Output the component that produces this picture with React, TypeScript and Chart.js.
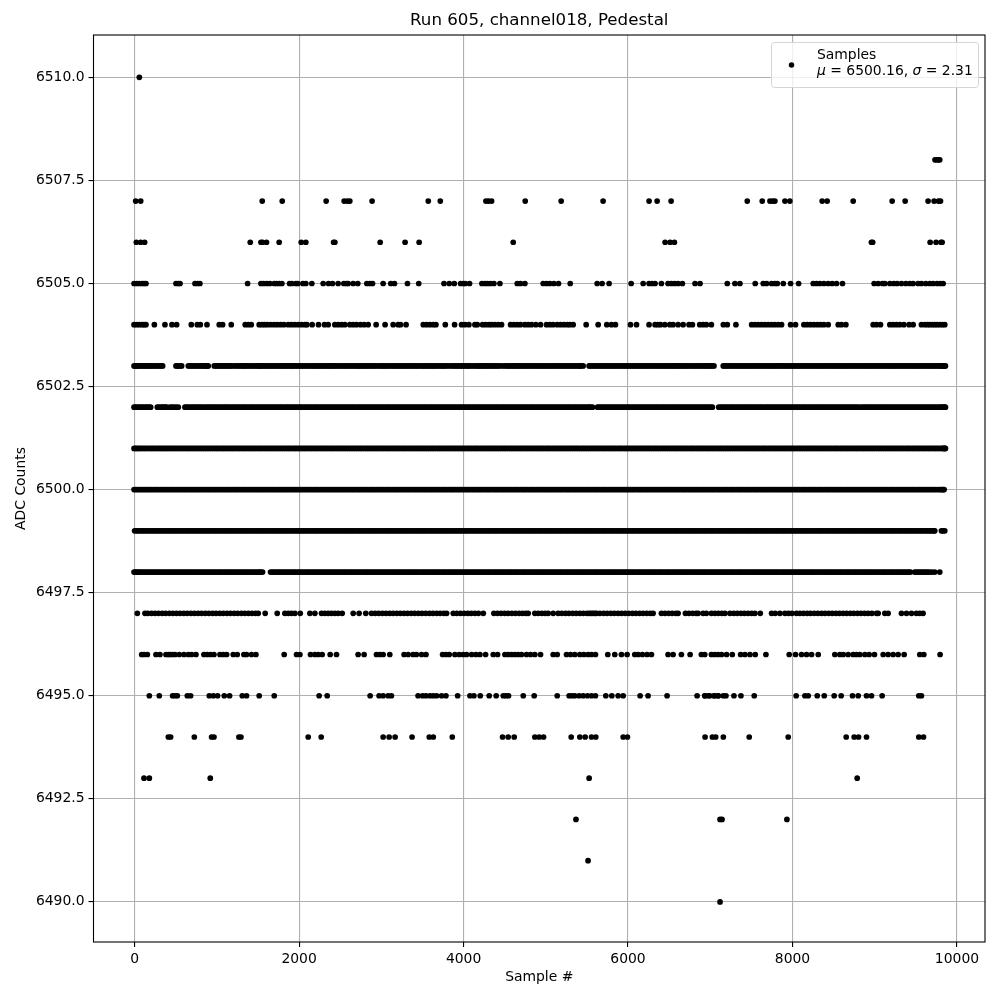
import React, { useEffect, useRef } from "react";
import { Chart, registerables } from "chart.js";

Chart.register(...registerables);

const chartTitle = "Run 605, channel018, Pedestal";
const xLabel = "Sample #";
const yLabel = "ADC Counts";
const xTicks = [0, 2000, 4000, 6000, 8000, 10000];
const yTicks = [6490, 6492.5, 6495, 6497.5, 6500, 6502.5, 6505, 6507.5, 6510];

const level6510 = [57];
const level6508 = [9733, 9755, 9775, 9791];
const level6507 = [13, 74, 1552, 1795, 2329, 2548, 2585, 2617, 2888, 3571, 3717, 4272, 4304, 4341, 4750, 5187, 5697, 6256, 6354, 6524, 7450, 7632, 7726, 7760, 7786, 7908, 7968, 8361, 8422, 8738, 9212, 9370, 9649, 9722, 9775, 9800];
const level6506 = [21, 74, 122, 1406, 1536, 1556, 1604, 1758, 2026, 2082, 2420, 2435, 2986, 3289, 3460, 4604, 6451, 6512, 6564, 8960, 8975, 9674, 9746, 9807, 9820];
const level6505 = [-7, 25, 57, 90, 114, 138, 503, 531, 552, 734, 766, 794, 1374, 1536, 1568, 1608, 1645, 1698, 1726, 1758, 1791, 1884, 1912, 1961, 1985, 2046, 2082, 2155, 2293, 2358, 2406, 2475, 2544, 2576, 2597, 2658, 2714, 2824, 2860, 2893, 3022, 3115, 3160, 3318, 3455, 3762, 3826, 3887, 3964, 3996, 4021, 4073, 4223, 4260, 4292, 4329, 4369, 4442, 4653, 4693, 4746, 4968, 5009, 5049, 5098, 5155, 5297, 5625, 5685, 5770, 6038, 6184, 6256, 6293, 6329, 6406, 6487, 6528, 6568, 6609, 6661, 6815, 6876, 7207, 7300, 7361, 7547, 7644, 7685, 7746, 7786, 7815, 7888, 7977, 8074, 8252, 8293, 8333, 8382, 8434, 8483, 8536, 8608, 8993, 9042, 9094, 9123, 9184, 9232, 9273, 9325, 9378, 9427, 9467, 9528, 9568, 9621, 9670, 9710, 9759, 9799, 9832];
const level6504 = [-7, 25, 57, 90, 114, 138, 240, 369, 454, 511, 689, 762, 799, 880, 1029, 1070, 1175, 1345, 1382, 1418, 1515, 1548, 1580, 1613, 1653, 1694, 1734, 1775, 1815, 1868, 1908, 1949, 1989, 2030, 2070, 2095, 2159, 2236, 2309, 2354, 2435, 2475, 2516, 2556, 2617, 2658, 2698, 2746, 2791, 2840, 2937, 3046, 3144, 3204, 3233, 3301, 3510, 3551, 3591, 3632, 3664, 3778, 3891, 3976, 4017, 4065, 4138, 4167, 4231, 4268, 4308, 4341, 4381, 4422, 4462, 4572, 4612, 4653, 4693, 4746, 4786, 4827, 4879, 4936, 5009, 5050, 5090, 5139, 5179, 5220, 5260, 5293, 5333, 5491, 5637, 5742, 5799, 5847, 6030, 6103, 6256, 6329, 6362, 6394, 6447, 6508, 6548, 6609, 6670, 6742, 6783, 6872, 6913, 6953, 7014, 7159, 7207, 7312, 7503, 7543, 7584, 7624, 7665, 7705, 7746, 7786, 7827, 7867, 7977, 8037, 8139, 8179, 8220, 8260, 8301, 8341, 8382, 8434, 8556, 8596, 8649, 8981, 9022, 9070, 9184, 9224, 9265, 9305, 9354, 9418, 9467, 9568, 9609, 9641, 9670, 9702, 9730, 9759, 9791, 9823, 9852];
const level6503 = [-7, 20, 47, 90, 130, 170, 210, 255, 300, 341, 503, 535, 572, 653, 695, 740, 785, 830, 865, 895, 968, 1010, 1055, 1095, 1140, 1180, 1240, 1290, 1330, 1375, 1420, 1470, 1510, 1545, 1590, 1635, 1675, 1720, 1765, 1805, 1850, 1895, 1935, 1980, 2025, 2070, 2120, 2170, 2210, 2255, 2300, 2345, 2385, 2430, 2475, 2525, 2570, 2615, 2665, 2710, 2750, 2795, 2840, 2885, 2930, 2985, 3030, 3075, 3125, 3170, 3215, 3260, 3305, 3350, 3395, 3440, 3490, 3530, 3575, 3620, 3660, 3710, 3755, 3800, 3860, 3905, 3950, 3990, 4035, 4075, 4130, 4175, 4215, 4260, 4300, 4345, 4390, 4435, 4500, 4545, 4590, 4630, 4675, 4720, 4765, 4810, 4855, 4900, 4945, 4990, 5035, 5080, 5125, 5170, 5215, 5260, 5305, 5350, 5395, 5430, 5454, 5527, 5570, 5615, 5660, 5705, 5750, 5795, 5840, 5885, 5930, 5975, 6020, 6065, 6110, 6155, 6200, 6245, 6290, 6335, 6380, 6425, 6470, 6515, 6555, 6600, 6640, 6685, 6730, 6780, 6825, 6870, 6915, 6960, 7000, 7045, 7158, 7195, 7240, 7285, 7330, 7375, 7420, 7465, 7510, 7555, 7600, 7645, 7690, 7735, 7780, 7825, 7870, 7915, 7960, 8005, 8050, 8095, 8140, 8185, 8230, 8275, 8320, 8365, 8410, 8455, 8500, 8545, 8590, 8635, 8680, 8725, 8770, 8815, 8860, 8905, 8950, 8995, 9040, 9085, 9130, 9175, 9220, 9265, 9310, 9355, 9400, 9445, 9490, 9535, 9580, 9625, 9670, 9715, 9760, 9805, 9835, 9860];
const level6503Extra = [8, 34, 70, 111, 149, 192, 231, 278, 322, 519, 555, 674, 718, 763, 806, 849, 881, 989, 1033, 1076, 1118, 1161, 1212, 1265, 1311, 1353, 1398, 1445, 1491, 1528, 1567, 1613, 1656, 1698, 1742, 1786, 1828, 1873, 1916, 1958, 2003, 2047, 2095, 2144, 2191, 2233, 2278, 2323, 2366, 2408, 2453, 2499, 2548, 2593, 2640, 2688, 2731, 2773, 2818, 2863, 2908, 2958, 3008, 3053, 3100, 3148, 3193, 3238, 3283, 3328, 3373, 3418, 3465, 3511, 3553, 3598, 3641, 3686, 3733, 3778, 3831, 3883, 3928, 3971, 4013, 4056, 4103, 4153, 4196, 4238, 4281, 4323, 4368, 4413, 4468, 4523, 4568, 4611, 4653, 4698, 4743, 4788, 4833, 4878, 4923, 4968, 5013, 5058, 5103, 5148, 5193, 5238, 5283, 5328, 5373, 5413, 5545, 5593, 5638, 5683, 5728, 5773, 5818, 5863, 5908, 5953, 5998, 6043, 6088, 6133, 6178, 6223, 6268, 6313, 6358, 6403, 6448, 6493, 6536, 6578, 6621, 6663, 6708, 6756, 6803, 6848, 6893, 6938, 6981, 7023, 7175, 7218, 7263, 7308, 7353, 7398, 7443, 7488, 7533, 7578, 7623, 7668, 7713, 7758, 7803, 7848, 7893, 7938, 7983, 8028, 8073, 8118, 8163, 8208, 8253, 8298, 8343, 8388, 8433, 8478, 8523, 8568, 8613, 8658, 8703, 8748, 8793, 8838, 8883, 8928, 8973, 9018, 9063, 9108, 9153, 9198, 9243, 9288, 9333, 9378, 9423, 9468, 9513, 9558, 9603, 9648, 9693, 9738, 9783, 9821, 9848];
const level6502 = [-7, 30, 72, 115, 155, 195, 276, 320, 358, 390, 430, 478, 531, 612, 650, 698, 741, 783, 826, 874, 917, 959, 1003, 1048, 1092, 1133, 1178, 1224, 1266, 1311, 1353, 1399, 1441, 1486, 1528, 1574, 1616, 1661, 1703, 1749, 1791, 1836, 1878, 1923, 1966, 2011, 2053, 2098, 2141, 2186, 2228, 2273, 2316, 2361, 2403, 2448, 2491, 2536, 2578, 2623, 2666, 2711, 2753, 2798, 2841, 2886, 2928, 2973, 3016, 3061, 3103, 3148, 3191, 3236, 3278, 3323, 3366, 3411, 3453, 3498, 3541, 3586, 3628, 3673, 3716, 3761, 3803, 3848, 3891, 3936, 3978, 4023, 4066, 4111, 4153, 4198, 4241, 4286, 4328, 4373, 4416, 4461, 4503, 4548, 4591, 4636, 4678, 4723, 4766, 4811, 4853, 4898, 4941, 4986, 5028, 5073, 5116, 5161, 5203, 5248, 5291, 5336, 5378, 5423, 5466, 5511, 5545, 5568, 5629, 5671, 5716, 5758, 5803, 5846, 5891, 5933, 5978, 6021, 6066, 6108, 6153, 6196, 6241, 6283, 6328, 6371, 6416, 6458, 6503, 6546, 6591, 6633, 6678, 6721, 6766, 6808, 6853, 6896, 6941, 6983, 7026, 7103, 7148, 7191, 7236, 7278, 7323, 7366, 7411, 7453, 7498, 7541, 7586, 7628, 7673, 7716, 7761, 7803, 7848, 7891, 7936, 7978, 8023, 8066, 8111, 8153, 8198, 8241, 8286, 8328, 8373, 8416, 8461, 8503, 8548, 8591, 8636, 8678, 8723, 8766, 8811, 8841, 8886, 8928, 8973, 9016, 9061, 9103, 9148, 9191, 9236, 9278, 9323, 9366, 9411, 9453, 9498, 9541, 9586, 9628, 9673, 9716, 9761, 9803, 9833, 9860];
const level6502Extra = [12, 51, 94, 136, 175, 298, 339, 375, 454, 505, 631, 674, 720, 762, 805, 850, 896, 938, 981, 1026, 1070, 1112, 1156, 1201, 1245, 1289, 1332, 1376, 1420, 1463, 1507, 1551, 1595, 1638, 1682, 1726, 1770, 1813, 1857, 1901, 1945, 1988, 2032, 2076, 2120, 2163, 2207, 2251, 2295, 2338, 2382, 2426, 2470, 2513, 2557, 2601, 2645, 2688, 2732, 2776, 2820, 2863, 2907, 2951, 2995, 3038, 3082, 3126, 3170, 3213, 3257, 3301, 3345, 3388, 3432, 3476, 3520, 3563, 3607, 3651, 3695, 3738, 3782, 3826, 3870, 3913, 3957, 4001, 4045, 4088, 4132, 4176, 4220, 4263, 4307, 4351, 4395, 4438, 4482, 4526, 4570, 4613, 4657, 4701, 4745, 4788, 4832, 4876, 4920, 4963, 5007, 5051, 5095, 5138, 5182, 5226, 5270, 5313, 5357, 5401, 5445, 5488, 5528, 5650, 5694, 5737, 5781, 5825, 5869, 5912, 5956, 6000, 6044, 6087, 6131, 6175, 6219, 6262, 6306, 6350, 6394, 6437, 6481, 6525, 6569, 6612, 6656, 6700, 6744, 6787, 6831, 6875, 6919, 6962, 7005, 7125, 7169, 7213, 7257, 7300, 7344, 7388, 7432, 7475, 7519, 7563, 7607, 7650, 7694, 7738, 7782, 7825, 7869, 7913, 7957, 8000, 8044, 8088, 8132, 8175, 8219, 8263, 8307, 8350, 8394, 8438, 8482, 8525, 8569, 8613, 8657, 8700, 8744, 8788, 8864, 8907, 8951, 8994, 9038, 9082, 9126, 9169, 9213, 9257, 9301, 9344, 9388, 9432, 9476, 9519, 9563, 9607, 9651, 9694, 9738, 9782, 9818, 9848];
const level6501 = [-7, 28, 66, 109, 151, 197, 238, 284, 327, 369, 412, 457, 499, 544, 586, 632, 674, 719, 762, 807, 849, 894, 937, 982, 1024, 1069, 1112, 1157, 1199, 1244, 1287, 1332, 1374, 1419, 1462, 1507, 1549, 1594, 1637, 1682, 1724, 1769, 1812, 1857, 1899, 1944, 1987, 2032, 2074, 2119, 2162, 2207, 2249, 2294, 2337, 2382, 2424, 2469, 2512, 2557, 2599, 2644, 2687, 2732, 2774, 2819, 2862, 2907, 2949, 2994, 3037, 3082, 3124, 3169, 3212, 3257, 3299, 3344, 3387, 3432, 3474, 3519, 3562, 3607, 3649, 3694, 3737, 3782, 3824, 3869, 3912, 3957, 3999, 4044, 4087, 4132, 4174, 4219, 4262, 4307, 4349, 4394, 4437, 4482, 4524, 4569, 4612, 4657, 4699, 4744, 4787, 4832, 4874, 4919, 4962, 5007, 5049, 5094, 5137, 5182, 5224, 5269, 5312, 5357, 5399, 5444, 5487, 5532, 5574, 5619, 5662, 5707, 5749, 5794, 5837, 5882, 5924, 5969, 6012, 6057, 6099, 6144, 6187, 6232, 6274, 6319, 6362, 6407, 6449, 6494, 6537, 6582, 6624, 6669, 6712, 6757, 6799, 6844, 6887, 6932, 6974, 7019, 7062, 7107, 7149, 7194, 7237, 7282, 7324, 7369, 7412, 7457, 7499, 7544, 7587, 7632, 7674, 7719, 7762, 7807, 7849, 7894, 7937, 7982, 8024, 8069, 8112, 8157, 8199, 8244, 8287, 8332, 8374, 8419, 8462, 8507, 8549, 8594, 8637, 8682, 8724, 8769, 8812, 8857, 8899, 8944, 8987, 9032, 9074, 9119, 9162, 9207, 9249, 9294, 9337, 9382, 9424, 9469, 9512, 9557, 9599, 9644, 9687, 9732, 9774, 9819, 9845, 9860];
const level6501Extra = [10, 47, 88, 130, 174, 218, 261, 305, 348, 391, 434, 478, 522, 565, 609, 653, 697, 740, 784, 828, 872, 915, 959, 1003, 1047, 1090, 1134, 1178, 1222, 1265, 1309, 1353, 1397, 1440, 1484, 1528, 1572, 1615, 1659, 1703, 1747, 1790, 1834, 1878, 1922, 1965, 2009, 2053, 2097, 2140, 2184, 2228, 2272, 2315, 2359, 2403, 2447, 2490, 2534, 2578, 2622, 2665, 2709, 2753, 2797, 2840, 2884, 2928, 2972, 3015, 3059, 3103, 3147, 3190, 3234, 3278, 3322, 3365, 3409, 3453, 3497, 3540, 3584, 3628, 3672, 3715, 3759, 3803, 3847, 3890, 3934, 3978, 4022, 4065, 4109, 4153, 4197, 4240, 4284, 4328, 4372, 4415, 4459, 4503, 4547, 4590, 4634, 4678, 4722, 4765, 4809, 4853, 4897, 4940, 4984, 5028, 5072, 5115, 5159, 5203, 5247, 5290, 5334, 5378, 5422, 5465, 5509, 5553, 5597, 5640, 5684, 5728, 5772, 5815, 5859, 5903, 5947, 5990, 6034, 6078, 6122, 6165, 6209, 6253, 6297, 6340, 6384, 6428, 6472, 6515, 6559, 6603, 6647, 6690, 6734, 6778, 6822, 6865, 6909, 6953, 6997, 7040, 7084, 7128, 7172, 7215, 7259, 7303, 7347, 7390, 7434, 7478, 7522, 7565, 7609, 7653, 7697, 7740, 7784, 7828, 7872, 7915, 7959, 8003, 8047, 8090, 8134, 8178, 8222, 8265, 8309, 8353, 8397, 8440, 8484, 8528, 8572, 8615, 8659, 8703, 8747, 8790, 8834, 8878, 8922, 8965, 9009, 9053, 9097, 9140, 9184, 9228, 9272, 9315, 9359, 9403, 9447, 9490, 9534, 9578, 9622, 9665, 9709, 9753, 9797, 9832, 9853];
const level6500 = [-7, 35, 78, 121, 163, 205, 251, 293, 338, 381, 426, 468, 513, 556, 601, 643, 688, 731, 776, 818, 863, 906, 951, 993, 1038, 1081, 1126, 1168, 1213, 1256, 1301, 1343, 1388, 1431, 1476, 1518, 1563, 1606, 1651, 1693, 1738, 1781, 1826, 1868, 1913, 1956, 2001, 2043, 2088, 2131, 2176, 2218, 2263, 2306, 2351, 2393, 2438, 2481, 2526, 2568, 2613, 2656, 2701, 2743, 2788, 2831, 2876, 2918, 2963, 3006, 3051, 3093, 3138, 3181, 3226, 3268, 3313, 3356, 3401, 3443, 3488, 3531, 3576, 3618, 3663, 3706, 3751, 3793, 3838, 3881, 3926, 3968, 4013, 4056, 4101, 4143, 4188, 4231, 4276, 4318, 4363, 4406, 4451, 4493, 4538, 4581, 4626, 4668, 4713, 4756, 4801, 4843, 4888, 4931, 4976, 5018, 5063, 5106, 5151, 5193, 5238, 5281, 5326, 5368, 5413, 5456, 5501, 5543, 5588, 5631, 5676, 5718, 5763, 5806, 5851, 5893, 5938, 5981, 6026, 6068, 6113, 6156, 6201, 6243, 6288, 6331, 6376, 6418, 6463, 6506, 6551, 6593, 6638, 6681, 6726, 6768, 6813, 6856, 6901, 6943, 6988, 7031, 7076, 7118, 7163, 7206, 7251, 7293, 7338, 7381, 7426, 7468, 7513, 7556, 7601, 7643, 7688, 7731, 7776, 7818, 7863, 7906, 7951, 7993, 8038, 8081, 8126, 8168, 8213, 8256, 8301, 8343, 8388, 8431, 8476, 8518, 8563, 8606, 8651, 8693, 8738, 8781, 8826, 8868, 8913, 8956, 9001, 9043, 9088, 9131, 9176, 9218, 9263, 9306, 9351, 9393, 9438, 9481, 9526, 9568, 9613, 9656, 9701, 9743, 9788, 9822, 9844];
const level6500Extra = [14, 57, 100, 142, 184, 228, 272, 316, 360, 403, 447, 491, 535, 578, 622, 666, 710, 753, 797, 841, 885, 928, 972, 1016, 1060, 1103, 1147, 1191, 1235, 1278, 1322, 1366, 1410, 1453, 1497, 1541, 1585, 1628, 1672, 1716, 1760, 1803, 1847, 1891, 1935, 1978, 2022, 2066, 2110, 2153, 2197, 2241, 2285, 2328, 2372, 2416, 2460, 2503, 2547, 2591, 2635, 2678, 2722, 2766, 2810, 2853, 2897, 2941, 2985, 3028, 3072, 3116, 3160, 3203, 3247, 3291, 3335, 3378, 3422, 3466, 3510, 3553, 3597, 3641, 3685, 3728, 3772, 3816, 3860, 3903, 3947, 3991, 4035, 4078, 4122, 4166, 4210, 4253, 4297, 4341, 4385, 4428, 4472, 4516, 4560, 4603, 4647, 4691, 4735, 4778, 4822, 4866, 4910, 4953, 4997, 5041, 5085, 5128, 5172, 5216, 5260, 5303, 5347, 5391, 5435, 5478, 5522, 5566, 5610, 5653, 5697, 5741, 5785, 5828, 5872, 5916, 5960, 6003, 6047, 6091, 6135, 6178, 6222, 6266, 6310, 6353, 6397, 6441, 6485, 6528, 6572, 6616, 6660, 6703, 6747, 6791, 6835, 6878, 6922, 6966, 7010, 7053, 7097, 7141, 7185, 7228, 7272, 7316, 7360, 7403, 7447, 7491, 7535, 7578, 7622, 7666, 7710, 7753, 7797, 7841, 7885, 7928, 7972, 8016, 8060, 8103, 8147, 8191, 8235, 8278, 8322, 8366, 8410, 8453, 8497, 8541, 8585, 8628, 8672, 8716, 8760, 8803, 8847, 8891, 8935, 8978, 9022, 9066, 9110, 9153, 9197, 9241, 9285, 9328, 9372, 9416, 9460, 9503, 9547, 9591, 9635, 9678, 9722, 9766, 9805, 9834];
const level6499 = [0, 42, 87, 129, 174, 217, 262, 304, 349, 392, 437, 479, 524, 567, 612, 654, 699, 742, 787, 829, 874, 917, 962, 1004, 1049, 1092, 1137, 1179, 1224, 1267, 1312, 1354, 1399, 1442, 1487, 1529, 1574, 1617, 1662, 1704, 1749, 1792, 1837, 1879, 1924, 1967, 2012, 2054, 2099, 2142, 2187, 2229, 2274, 2317, 2362, 2404, 2449, 2492, 2537, 2579, 2624, 2667, 2712, 2754, 2799, 2842, 2887, 2929, 2974, 3017, 3062, 3104, 3149, 3192, 3237, 3279, 3324, 3367, 3412, 3454, 3499, 3542, 3587, 3629, 3674, 3717, 3762, 3804, 3849, 3892, 3937, 3979, 4024, 4067, 4112, 4154, 4199, 4242, 4287, 4329, 4374, 4417, 4462, 4504, 4549, 4592, 4637, 4679, 4724, 4767, 4812, 4854, 4899, 4942, 4987, 5029, 5074, 5117, 5162, 5204, 5249, 5292, 5337, 5379, 5424, 5467, 5512, 5554, 5599, 5642, 5687, 5729, 5774, 5817, 5862, 5904, 5949, 5992, 6037, 6079, 6124, 6167, 6212, 6254, 6299, 6342, 6387, 6429, 6474, 6517, 6562, 6604, 6649, 6692, 6737, 6779, 6824, 6867, 6912, 6954, 6999, 7042, 7087, 7129, 7174, 7217, 7262, 7304, 7349, 7392, 7437, 7479, 7524, 7567, 7612, 7654, 7699, 7742, 7787, 7829, 7874, 7917, 7962, 8004, 8049, 8092, 8137, 8179, 8224, 8267, 8312, 8354, 8399, 8442, 8487, 8529, 8574, 8617, 8662, 8704, 8749, 8792, 8837, 8879, 8924, 8967, 9012, 9054, 9099, 9142, 9187, 9229, 9274, 9317, 9362, 9404, 9449, 9492, 9537, 9579, 9624, 9667, 9705, 9730, 9811, 9852];
const level6499Extra = [21, 65, 108, 151, 195, 239, 283, 326, 370, 414, 458, 501, 545, 589, 633, 676, 720, 764, 808, 851, 895, 939, 983, 1026, 1070, 1114, 1158, 1201, 1245, 1289, 1333, 1376, 1420, 1464, 1508, 1551, 1595, 1639, 1683, 1726, 1770, 1814, 1858, 1901, 1945, 1989, 2033, 2076, 2120, 2164, 2208, 2251, 2295, 2339, 2383, 2426, 2470, 2514, 2558, 2601, 2645, 2689, 2733, 2776, 2820, 2864, 2908, 2951, 2995, 3039, 3083, 3126, 3170, 3214, 3258, 3301, 3345, 3389, 3433, 3476, 3520, 3564, 3608, 3651, 3695, 3739, 3783, 3826, 3870, 3914, 3958, 4001, 4045, 4089, 4133, 4176, 4220, 4264, 4308, 4351, 4395, 4439, 4483, 4526, 4570, 4614, 4658, 4701, 4745, 4789, 4833, 4876, 4920, 4964, 5008, 5051, 5095, 5139, 5183, 5226, 5270, 5314, 5358, 5401, 5445, 5489, 5533, 5576, 5620, 5664, 5708, 5751, 5795, 5839, 5883, 5926, 5970, 6014, 6058, 6101, 6145, 6189, 6233, 6276, 6320, 6364, 6408, 6451, 6495, 6539, 6583, 6626, 6670, 6714, 6758, 6801, 6845, 6889, 6933, 6976, 7020, 7064, 7108, 7151, 7195, 7239, 7283, 7326, 7370, 7414, 7458, 7501, 7545, 7589, 7633, 7676, 7720, 7764, 7808, 7851, 7895, 7939, 7983, 8026, 8070, 8114, 8158, 8201, 8245, 8289, 8333, 8376, 8420, 8464, 8508, 8551, 8595, 8639, 8683, 8726, 8770, 8814, 8858, 8901, 8945, 8989, 9033, 9076, 9120, 9164, 9208, 9251, 9295, 9339, 9383, 9426, 9470, 9514, 9558, 9601, 9645, 9686, 9720, 9830];
const level6498 = [-7, 25, 62, 105, 148, 191, 236, 278, 323, 366, 411, 453, 498, 541, 586, 628, 673, 716, 761, 803, 848, 891, 936, 978, 1023, 1066, 1111, 1153, 1198, 1241, 1286, 1328, 1373, 1416, 1461, 1503, 1535, 1556, 1653, 1696, 1741, 1783, 1828, 1871, 1916, 1958, 2003, 2046, 2091, 2133, 2178, 2221, 2266, 2308, 2353, 2396, 2441, 2483, 2528, 2571, 2616, 2658, 2703, 2746, 2791, 2833, 2878, 2921, 2966, 3008, 3053, 3096, 3141, 3183, 3228, 3271, 3316, 3358, 3403, 3446, 3491, 3533, 3578, 3621, 3666, 3708, 3753, 3796, 3841, 3883, 3928, 3971, 4016, 4058, 4103, 4146, 4191, 4233, 4278, 4321, 4366, 4408, 4453, 4496, 4541, 4583, 4628, 4671, 4716, 4758, 4803, 4846, 4891, 4933, 4978, 5021, 5066, 5108, 5153, 5196, 5241, 5283, 5328, 5371, 5416, 5458, 5503, 5546, 5591, 5633, 5678, 5721, 5766, 5808, 5853, 5896, 5941, 5983, 6028, 6071, 6116, 6158, 6203, 6246, 6291, 6333, 6378, 6421, 6466, 6508, 6553, 6596, 6641, 6683, 6728, 6771, 6816, 6858, 6903, 6946, 6991, 7033, 7078, 7121, 7166, 7208, 7253, 7296, 7341, 7383, 7428, 7471, 7516, 7558, 7603, 7646, 7691, 7733, 7778, 7821, 7866, 7908, 7953, 7996, 8041, 8083, 8128, 8171, 8216, 8258, 8303, 8346, 8391, 8433, 8478, 8521, 8566, 8608, 8653, 8696, 8741, 8783, 8828, 8871, 8916, 8958, 9003, 9046, 9091, 9133, 9178, 9221, 9266, 9308, 9353, 9396, 9435, 9487, 9531, 9576, 9618, 9663, 9695, 9730, 9791];
const level6498Extra = [9, 44, 84, 127, 170, 214, 257, 301, 345, 389, 432, 476, 520, 564, 607, 651, 695, 739, 782, 826, 870, 914, 957, 1001, 1045, 1089, 1132, 1176, 1220, 1264, 1307, 1351, 1395, 1439, 1482, 1520, 1675, 1719, 1763, 1806, 1850, 1894, 1938, 1981, 2025, 2069, 2113, 2156, 2200, 2244, 2288, 2331, 2375, 2419, 2463, 2506, 2550, 2594, 2638, 2681, 2725, 2769, 2813, 2856, 2900, 2944, 2988, 3031, 3075, 3119, 3163, 3206, 3250, 3294, 3338, 3381, 3425, 3469, 3513, 3556, 3600, 3644, 3688, 3731, 3775, 3819, 3863, 3906, 3950, 3994, 4038, 4081, 4125, 4169, 4213, 4256, 4300, 4344, 4388, 4431, 4475, 4519, 4563, 4606, 4650, 4694, 4738, 4781, 4825, 4869, 4913, 4956, 5000, 5044, 5088, 5131, 5175, 5219, 5263, 5306, 5350, 5394, 5438, 5481, 5525, 5569, 5613, 5656, 5700, 5744, 5788, 5831, 5875, 5919, 5963, 6006, 6050, 6094, 6138, 6181, 6225, 6269, 6313, 6356, 6400, 6444, 6488, 6531, 6575, 6619, 6663, 6706, 6750, 6794, 6838, 6881, 6925, 6969, 7013, 7056, 7100, 7144, 7188, 7231, 7275, 7319, 7363, 7406, 7450, 7494, 7538, 7581, 7625, 7669, 7713, 7756, 7800, 7844, 7888, 7931, 7975, 8019, 8063, 8106, 8150, 8194, 8238, 8281, 8325, 8369, 8413, 8456, 8500, 8544, 8588, 8631, 8675, 8719, 8763, 8806, 8850, 8894, 8938, 8981, 9025, 9069, 9113, 9156, 9200, 9244, 9288, 9331, 9375, 9415, 9509, 9553, 9597, 9641];
const level6497 = [33, 126, 160, 205, 248, 290, 335, 378, 423, 465, 510, 553, 598, 640, 685, 728, 773, 815, 860, 903, 948, 990, 1035, 1078, 1123, 1165, 1210, 1253, 1298, 1340, 1385, 1428, 1470, 1503, 1588, 1734, 1827, 1868, 1908, 1949, 2014, 2131, 2192, 2273, 2313, 2354, 2394, 2435, 2475, 2524, 2658, 2730, 2811, 2880, 2925, 2968, 3013, 3056, 3101, 3143, 3188, 3231, 3276, 3318, 3363, 3406, 3451, 3495, 3540, 3585, 3628, 3673, 3716, 3761, 3794, 3875, 3918, 3963, 4006, 4051, 4093, 4138, 4181, 4240, 4369, 4413, 4456, 4501, 4543, 4588, 4631, 4676, 4718, 4758, 4786, 4867, 4908, 4951, 4993, 5029, 5090, 5151, 5194, 5239, 5281, 5326, 5369, 5414, 5456, 5501, 5530, 5552, 5575, 5598, 5617, 5658, 5703, 5745, 5790, 5833, 5878, 5920, 5965, 6008, 6053, 6095, 6140, 6183, 6228, 6270, 6305, 6406, 6449, 6494, 6536, 6581, 6609, 6698, 6741, 6786, 6828, 6852, 6913, 6953, 7014, 7056, 7098, 7141, 7179, 7240, 7285, 7328, 7373, 7415, 7460, 7503, 7543, 7608, 7746, 7790, 7847, 7908, 7951, 7993, 8049, 8090, 8133, 8178, 8220, 8265, 8308, 8353, 8395, 8440, 8483, 8528, 8570, 8615, 8658, 8703, 8745, 8790, 8833, 8878, 8920, 8965, 9022, 9042, 9123, 9163, 9325, 9386, 9447, 9507, 9548, 9588];
const level6496 = [86, 114, 155, 260, 308, 381, 410, 430, 462, 491, 543, 600, 653, 693, 746, 843, 884, 924, 965, 1038, 1078, 1119, 1199, 1248, 1329, 1361, 1422, 1475, 1819, 1969, 2010, 2139, 2192, 2232, 2281, 2378, 2455, 2718, 2791, 2941, 2982, 3022, 3103, 3277, 3326, 3386, 3427, 3490, 3543, 3745, 3786, 3826, 3895, 3948, 3996, 4037, 4098, 4150, 4199, 4268, 4361, 4414, 4503, 4543, 4584, 4624, 4665, 4705, 4766, 4815, 4867, 4936, 5090, 5139, 5252, 5301, 5353, 5414, 5463, 5515, 5556, 5604, 5754, 5839, 5920, 5989, 6082, 6123, 6175, 6232, 6285, 6487, 6548, 6649, 6755, 6892, 6933, 7014, 7054, 7095, 7138, 7199, 7268, 7369, 7422, 7483, 7547, 7677, 7960, 8037, 8110, 8171, 8232, 8313, 8515, 8576, 8617, 8677, 8738, 8779, 8819, 8880, 8932, 8997, 9103, 9163, 9224, 9285, 9358, 9548, 9597, 9795];
const level6495 = [179, 300, 462, 491, 519, 641, 681, 908, 957, 1009, 1090, 1155, 1309, 1361, 1515, 1698, 2244, 2342, 2864, 2973, 3022, 3083, 3123, 3447, 3502, 3543, 3592, 3632, 3672, 3733, 3786, 3928, 4078, 4126, 4203, 4312, 4397, 4483, 4515, 4547, 4726, 4859, 5139, 5284, 5317, 5353, 5406, 5455, 5507, 5556, 5604, 5730, 5803, 5880, 5941, 6147, 6244, 6475, 6840, 6933, 6994, 7054, 7095, 6936, 6976, 7045, 7098, 7159, 7191, 7288, 7373, 7535, 8045, 8151, 8191, 8301, 8386, 8507, 8592, 8730, 8799, 8900, 8961, 9090, 9536, 9568];
const level6494 = [410, 438, 726, 936, 965, 1268, 1293, 2111, 2269, 3022, 3095, 3168, 3374, 3583, 3632, 3863, 4474, 4543, 4616, 4867, 4920, 4973, 5309, 5414, 5479, 5556, 5608, 5941, 5993, 6937, 7026, 7066, 7159, 7474, 7948, 8653, 8750, 8803, 8900, 9536, 9593];
const level6493 = [114, 179, 920, 5527, 8787];
const level6492 = [5367, 7119, 7143, 7932];
const level6491 = [5514];
const level6490 = [7119];

const levels = [6510, 6508, 6507, 6506, 6505, 6504, 6503, 6503, 6502, 6502, 6501, 6501, 6500, 6500, 6499, 6499, 6498, 6498, 6497, 6496, 6495, 6494, 6493, 6492, 6491, 6490];
const samplesByLevel = [level6510, level6508, level6507, level6506, level6505, level6504, level6503, level6503Extra, level6502, level6502Extra, level6501, level6501Extra, level6500, level6500Extra, level6499, level6499Extra, level6498, level6498Extra, level6497, level6496, level6495, level6494, level6493, level6492, level6491, level6490];

const FONT = '"DejaVu Sans"';

const framePlugin = {
  id: "frameAndLegend",
  afterDatasetsDraw(chart: any) {
    const { ctx, chartArea: a } = chart;
    ctx.save();
    ctx.strokeStyle = "#000";
    ctx.lineWidth = 1.1;
    ctx.strokeRect(a.left, a.top, a.right - a.left, a.bottom - a.top);

    ctx.beginPath();
    ctx.roundRect(771.5, 42.5, 207, 45, 3);
    ctx.fillStyle = "rgba(255,255,255,0.8)";
    ctx.fill();
    ctx.strokeStyle = "#d5d5d5";
    ctx.lineWidth = 1;
    ctx.stroke();

    ctx.fillStyle = "#000";
    ctx.beginPath();
    ctx.arc(791.5, 65, 2.75, 0, Math.PI * 2);
    ctx.fill();

    ctx.textBaseline = "alphabetic";
    ctx.textAlign = "left";
    ctx.font = `13.9px ${FONT}`;
    ctx.fillText("Samples", 817, 59);
    let x = 817;
    const parts: [string, boolean][] = [
      ["\u03bc", true],
      [" = 6500.16, ", false],
      ["\u03c3", true],
      [" = 2.31", false],
    ];
    for (const [t, it] of parts) {
      ctx.font = `${it ? "italic " : ""}13.9px ${FONT}`;
      ctx.fillText(t, x, 75);
      x += ctx.measureText(t).width;
    }
    ctx.restore();
  },
};

export default function App() {
  const ref = useRef<HTMLCanvasElement>(null);
  useEffect(() => {
    const points: { x: number; y: number }[] = [];
    levels.forEach((lv, i) => {
      samplesByLevel[i].forEach((s) => points.push({ x: s, y: lv }));
    });
    const chart = new Chart(ref.current as HTMLCanvasElement, {
      type: "scatter",
      data: {
        datasets: [
          {
            label: "Samples",
            data: points,
            backgroundColor: "#000",
            borderColor: "#000",
            pointRadius: 2.85,
            pointBorderWidth: 0,
          },
        ],
      },
      options: {
        animation: false,
        responsive: false,
        devicePixelRatio: 1,
        layout: { padding: { top: 0, right: 15, left: 0, bottom: 0 } },
        plugins: {
          legend: { display: false },
          tooltip: { enabled: false },
          title: {
            display: true,
            text: chartTitle,
            color: "#000",
            fullSize: false,
            font: { family: FONT, size: 16.67, weight: "normal", lineHeight: 1.2 },
            padding: { top: 11, bottom: 4 },
          },
        },
        scales: {
          x: {
            type: "linear",
            min: -500,
            max: 10341,
            afterBuildTicks: (s: any) => {
              s.ticks = xTicks.map((v) => ({ value: v }));
            },
            afterFit: (s: any) => {
              s.height = 58;
            },
            grid: { color: "#b0b0b0", lineWidth: 1.1, tickColor: "#000", tickLength: 5, tickWidth: 1.1 },
            border: { display: false },
            ticks: {
              color: "#000",
              maxRotation: 0,
              padding: 4,
              autoSkip: false,
              font: { family: FONT, size: 13.9 },
              callback: (v: any) => String(v),
            },
            title: {
              display: true,
              text: xLabel,
              color: "#000",
              font: { family: FONT, size: 13.9 },
              padding: { top: 0, bottom: 14.5 },
            },
          },
          y: {
            type: "linear",
            min: 6489.027,
            max: 6511.027,
            afterBuildTicks: (s: any) => {
              s.ticks = yTicks.map((v) => ({ value: v }));
            },
            afterFit: (s: any) => {
              s.width = 93.5;
            },
            grid: { color: "#b0b0b0", lineWidth: 1.1, tickColor: "#000", tickLength: 5, tickWidth: 1.1 },
            border: { display: false },
            ticks: {
              color: "#000",
              padding: 4,
              autoSkip: false,
              font: { family: FONT, size: 13.9 },
              callback: (v: any) => Number(v).toFixed(1),
            },
            title: {
              display: true,
              text: yLabel,
              color: "#000",
              font: { family: FONT, size: 13.9 },
              padding: { top: 13, bottom: 0 },
            },
          },
        },
      },
      plugins: [framePlugin],
    } as any);
    return () => chart.destroy();
  }, []);
  return (
    <div style={{ position: "absolute", left: 0, top: 0, width: 1000, height: 1000 }}>
      <canvas ref={ref} width={1000} height={1000} style={{ display: "block" }} />
    </div>
  );
}
